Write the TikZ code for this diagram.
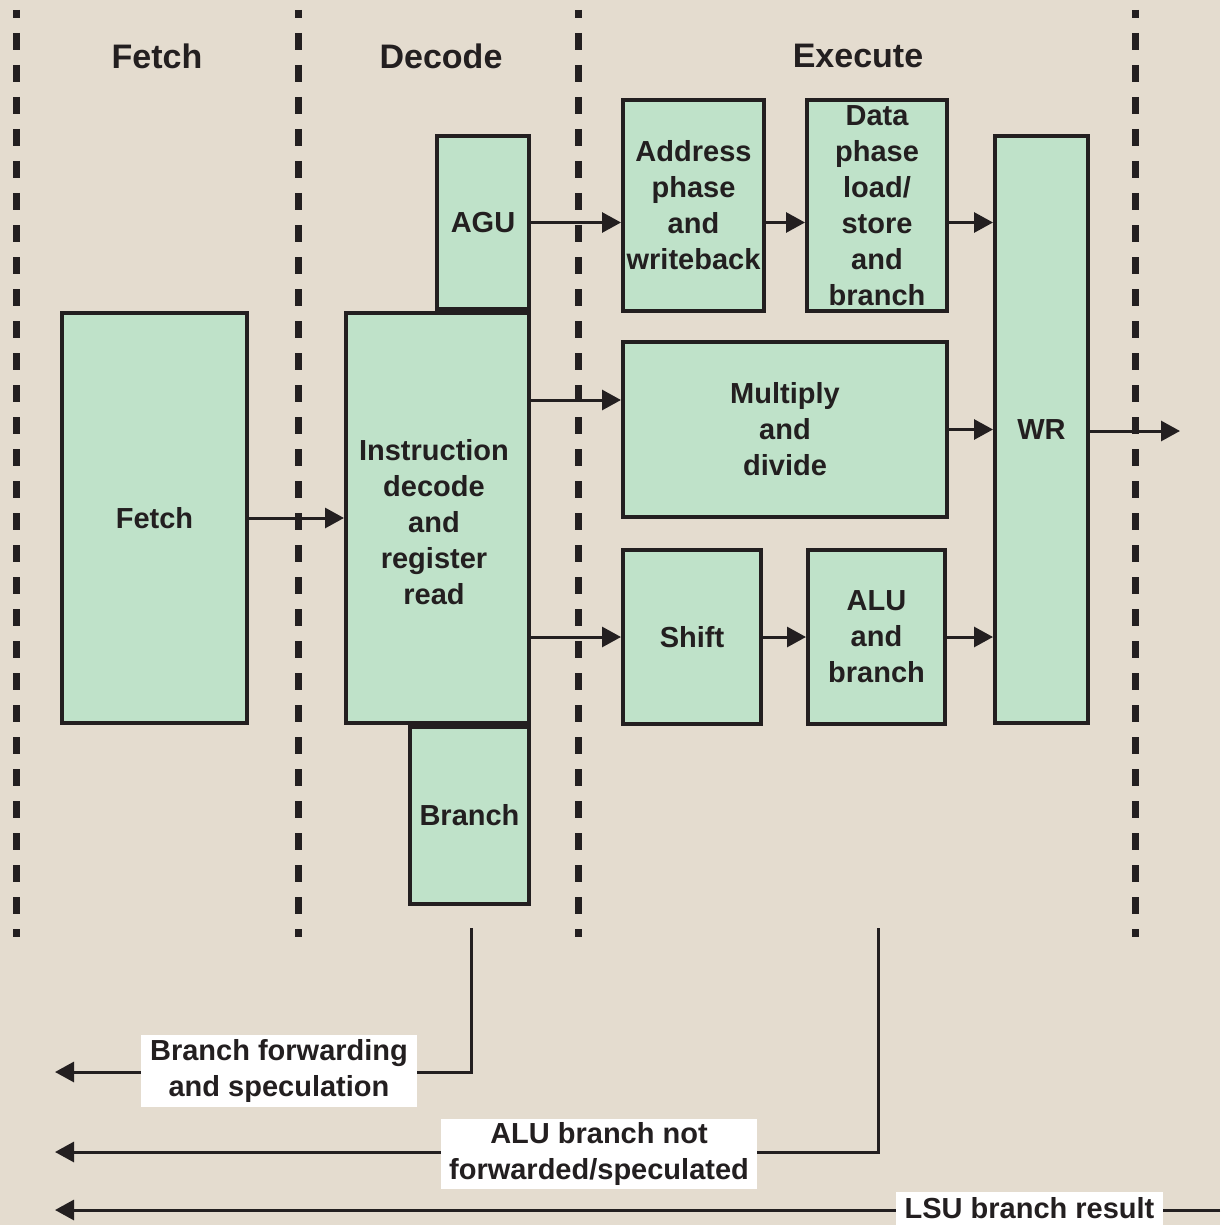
\documentclass[tikz,border=0pt]{standalone}
\usepackage{fontspec}
\setmainfont{Liberation Sans}
\usetikzlibrary{arrows.meta}
\definecolor{paper}{RGB}{228,220,207}
\definecolor{mint}{RGB}{191,226,201}
\definecolor{ink}{RGB}{35,31,32}
\begin{document}
\begin{tikzpicture}[x=1pt,y=-1pt,
  blkfont/.style={font=\fontsize{29}{36}\selectfont\bfseries, text=ink, align=center},
  blk/.style={draw=ink, fill=mint, line width=4pt, inner sep=0pt, blkfont},
  stage/.style={draw=ink, line width=7pt, dash pattern=on 17pt off 15pt, dash phase=9pt},
  head/.style={font=\fontsize{34}{40}\selectfont\bfseries, text=ink},
  arr/.style={draw=ink, line width=3pt, -{Triangle[length=19pt,width=20pt]}},
  lab/.style={fill=white, inner sep=0pt, blkfont}]
\useasboundingbox (0,0) rectangle (1220,1225);
\clip (0,0) rectangle (1220,1225);
\fill[paper] (0,0) rectangle (1220,1225);

% pipeline stage separators
\draw[stage] (16,10) -- (16,937);
\draw[stage] (298,10) -- (298,937);
\draw[stage] (578,10) -- (578,937);
\draw[stage] (1135,10) -- (1135,937);

% stage headings
\node[head] (hfetch) at (157,56) {Fetch};
\node[head] (hdecode) at (441,56) {Decode};
\node[head] (hexec) at (858,56) {Execute};

% functional blocks
\node[blk, minimum width=185pt, minimum height=410pt] (fetch) at (154.5,518) {Fetch};
\node[blk, minimum width=92pt, minimum height=173pt] (agu) at (483,222.5) {AGU};
\node[blk, minimum width=183pt, minimum height=410pt,
  label={[blkfont, xshift=-3.5pt, yshift=-4pt]center:Instruction\\decode\\and\\register\\read}]
  (dec) at (437.5,518) {};
\node[blk, minimum width=119pt, minimum height=177pt] (branch) at (469.5,815.5) {Branch};
\node[blk, minimum width=141pt, minimum height=211pt] (addr) at (693.5,205.5)
  {Address\\phase\\and\\writeback};
\node[blk, minimum width=140pt, minimum height=211pt] (data) at (877,205.5)
  {Data\\phase\\load/\\store\\and\\branch};
\node[blk, minimum width=324pt, minimum height=175pt] (mul) at (785,429.5)
  {Multiply\\and\\divide};
\node[blk, minimum width=138pt, minimum height=174pt] (shift) at (692,637) {Shift};
\node[blk, minimum width=137pt, minimum height=174pt] (alu) at (876.5,637)
  {ALU\\and\\branch};
\node[blk, minimum width=93pt, minimum height=587pt] (wr) at (1041.5,429.5) {WR};

% datapath connectors
\coordinate (out) at (1180,431);
\draw[arr] (fetch.east) -- (dec.west |- fetch.east);
\draw[arr] (agu.east) -- (addr.west |- agu.east);
\draw[arr] (dec.east |- 0,400) -- (mul.west |- 0,400);
\draw[arr] (dec.east |- shift.west) -- (shift.west);
\draw[arr] (addr.east |- agu.east) -- (data.west |- agu.east);
\draw[arr] (data.east |- agu.east) -- (wr.west |- agu.east);
\draw[arr] (mul.east) -- (wr.west |- mul.east);
\draw[arr] (shift.east) -- (alu.west);
\draw[arr] (alu.east) -- (wr.west |- alu.east);
\draw[arr] (wr.east |- out) -- (out);

% branch feedback paths
\coordinate (bfTop) at (471,928);
\coordinate (bfEnd) at (55,1072);
\coordinate (aluTop) at (878,928);
\coordinate (aluEnd) at (55,1152);
\coordinate (lsuIn) at (1220,1210);
\coordinate (lsuEnd) at (55,1210);
\draw[arr] (bfTop) |- (bfEnd);
\draw[arr] (aluTop) |- (aluEnd);
\draw[arr] (lsuIn) -- (lsuEnd);

\node[lab, minimum width=276pt, minimum height=72pt] (bflab) at (279,1071)
  {Branch forwarding\\and speculation};
\node[lab, minimum width=316pt, minimum height=70pt] (alulab) at (599,1154)
  {ALU branch not\\forwarded/speculated};
\node[lab, minimum width=267pt, minimum height=33pt] (lsulab) at (1029.5,1208.5)
  {LSU branch result};
\end{tikzpicture}
\end{document}
